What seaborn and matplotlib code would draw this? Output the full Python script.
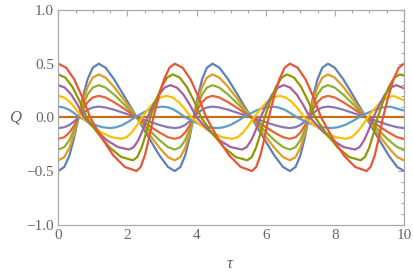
import numpy as np
import pandas as pd
import seaborn as sns
import matplotlib.pyplot as plt
from matplotlib.ticker import MultipleLocator

# Q(tau), one curve for each start value Q(0)
# the Q(0) < 0 curves share the same tau points
tau_neg = [0, 0.174, 0.323, 0.457, 0.585, 0.713, 0.847, 0.996, 1.17, 1.368, 1.615, 1.920, 2.27, 2.620, 2.925, 3.172,
           3.37, 3.532, 3.671, 3.796, 3.915, 4.034, 4.159, 4.298, 4.46, 4.661, 4.913, 5.223, 5.58, 5.937, 6.247, 6.499,
           6.70, 6.863, 7.003, 7.130, 7.25, 7.370, 7.497, 7.637, 7.80, 7.998, 8.245, 8.550, 8.90, 9.250, 9.555, 9.802,
           10.0]
q_m05 = [-0.5, -0.462, -0.354, -0.191, 0, 0.191, 0.354, 0.462, 0.5, 0.462, 0.354, 0.191, 0, -0.191, -0.354, -0.462,
         -0.5, -0.462, -0.354, -0.191, 0, 0.191, 0.354, 0.462, 0.5, 0.462, 0.354, 0.191, 0, -0.191, -0.354, -0.462,
         -0.5, -0.462, -0.354, -0.191, 0, 0.191, 0.354, 0.462, 0.5, 0.462, 0.354, 0.191, 0, -0.191, -0.354, -0.462,
         -0.5]
q_m04 = [-0.4, -0.37, -0.283, -0.153, 0, 0.153, 0.283, 0.37, 0.4, 0.37, 0.283, 0.153, 0, -0.153, -0.283, -0.37,
         -0.4, -0.37, -0.283, -0.153, 0, 0.153, 0.283, 0.37, 0.4, 0.37, 0.283, 0.153, 0, -0.153, -0.283, -0.37,
         -0.4, -0.37, -0.283, -0.153, 0, 0.153, 0.283, 0.37, 0.4, 0.37, 0.283, 0.153, 0, -0.153, -0.283, -0.37,
         -0.4]
q_m03 = [-0.3, -0.277, -0.212, -0.115, 0, 0.115, 0.212, 0.277, 0.3, 0.277, 0.212, 0.115, 0, -0.115, -0.212, -0.277,
         -0.3, -0.277, -0.212, -0.115, 0, 0.115, 0.212, 0.277, 0.3, 0.277, 0.212, 0.115, 0, -0.115, -0.212, -0.277,
         -0.3, -0.277, -0.212, -0.115, 0, 0.115, 0.212, 0.277, 0.3, 0.277, 0.212, 0.115, 0, -0.115, -0.212, -0.277,
         -0.3]
q_m02 = [-0.2, -0.185, -0.141, -0.077, 0, 0.077, 0.141, 0.185, 0.2, 0.185, 0.141, 0.077, 0, -0.077, -0.141, -0.185,
         -0.2, -0.185, -0.141, -0.077, 0, 0.077, 0.141, 0.185, 0.2, 0.185, 0.141, 0.077, 0, -0.077, -0.141, -0.185,
         -0.2, -0.185, -0.141, -0.077, 0, 0.077, 0.141, 0.185, 0.2, 0.185, 0.141, 0.077, 0, -0.077, -0.141, -0.185,
         -0.2]
q_m01 = [-0.1, -0.092, -0.071, -0.038, 0, 0.038, 0.071, 0.092, 0.1, 0.092, 0.071, 0.038, 0, -0.038, -0.071, -0.092,
         -0.1, -0.092, -0.071, -0.038, 0, 0.038, 0.071, 0.092, 0.1, 0.092, 0.071, 0.038, 0, -0.038, -0.071, -0.092,
         -0.1, -0.092, -0.071, -0.038, 0, 0.038, 0.071, 0.092, 0.1, 0.092, 0.071, 0.038, 0, -0.038, -0.071, -0.092,
         -0.1]

tau_0 = [0, 10]
q_0 = [0, 0]

tau_p01 = [0, 0.155, 0.31, 0.465, 0.62, 0.84, 1.06, 1.28, 1.50, 1.68, 1.86, 2.04, 2.22, 2.42, 2.62, 2.82,
           3.02, 3.183, 3.347, 3.51, 3.673, 3.905, 4.137, 4.368, 4.60, 4.79, 4.979, 5.169, 5.358, 5.569, 5.779, 5.99,
           6.20, 6.375, 6.549, 6.724, 6.898, 7.146, 7.393, 7.641, 7.889, 8.092, 8.294, 8.497, 8.699, 8.924, 9.15, 9.375,
           9.60, 10.0]
q_p01 = [0.1, 0.092, 0.071, 0.038, 0, -0.038, -0.071, -0.092, -0.1, -0.092, -0.071, -0.038, 0, 0.038, 0.071, 0.092,
         0.1, 0.092, 0.071, 0.038, 0, -0.038, -0.071, -0.092, -0.1, -0.092, -0.071, -0.038, 0, 0.038, 0.071, 0.092,
         0.1, 0.092, 0.071, 0.038, 0, -0.038, -0.071, -0.092, -0.1, -0.092, -0.071, -0.038, 0, 0.038, 0.071, 0.092,
         0.1, 0.063]

tau_p02 = [0, 0.17, 0.34, 0.51, 0.68, 0.965, 1.25, 1.535, 1.82, 1.97, 2.12, 2.27, 2.42, 2.598, 2.775, 2.953,
           3.13, 3.308, 3.486, 3.663, 3.841, 4.139, 4.437, 4.734, 5.032, 5.189, 5.346, 5.502, 5.659, 5.844, 6.029, 6.215,
           6.40, 6.579, 6.759, 6.938, 7.117, 7.418, 7.718, 8.019, 8.319, 8.477, 8.636, 8.794, 8.952, 9.139, 9.326, 9.513,
           9.70, 10.0]
q_p02 = [0.2, 0.185, 0.141, 0.077, 0, -0.077, -0.141, -0.185, -0.2, -0.185, -0.141, -0.077, 0, 0.077, 0.141, 0.185,
         0.2, 0.185, 0.141, 0.077, 0, -0.077, -0.141, -0.185, -0.2, -0.185, -0.141, -0.077, 0, 0.077, 0.141, 0.185,
         0.2, 0.185, 0.141, 0.077, 0, -0.077, -0.141, -0.185, -0.2, -0.185, -0.141, -0.077, 0, 0.077, 0.141, 0.185,
         0.2, 0.158]

tau_p03 = [0, 0.188, 0.375, 0.563, 0.75, 1.075, 1.40, 1.725, 2.05, 2.183, 2.315, 2.448, 2.58, 2.745, 2.91, 3.075,
           3.24, 3.43, 3.62, 3.809, 3.999, 4.328, 4.657, 4.986, 5.315, 5.449, 5.584, 5.718, 5.852, 6.019, 6.186, 6.353,
           6.52, 6.709, 6.898, 7.086, 7.275, 7.602, 7.929, 8.256, 8.583, 8.716, 8.85, 8.983, 9.116, 9.282, 9.448, 9.614,
           9.78, 10.0]
q_p03 = [0.3, 0.277, 0.212, 0.115, 0, -0.115, -0.212, -0.277, -0.3, -0.277, -0.212, -0.115, 0, 0.115, 0.212, 0.277,
         0.3, 0.277, 0.212, 0.115, 0, -0.115, -0.212, -0.277, -0.3, -0.277, -0.212, -0.115, 0, 0.115, 0.212, 0.277,
         0.3, 0.277, 0.212, 0.115, 0, -0.115, -0.212, -0.277, -0.3, -0.277, -0.212, -0.115, 0, 0.115, 0.212, 0.277,
         0.3, 0.27]

tau_p04 = [0, 0.205, 0.41, 0.615, 0.82, 1.155, 1.49, 1.825, 2.16, 2.285, 2.41, 2.535, 2.66, 2.823, 2.985, 3.148,
           3.31, 3.515, 3.72, 3.925, 4.13, 4.465, 4.80, 5.135, 5.47, 5.595, 5.72, 5.845, 5.97, 6.133, 6.295, 6.458,
           6.62, 6.822, 7.024, 7.226, 7.428, 7.758, 8.087, 8.417, 8.747, 8.87, 8.994, 9.117, 9.24, 9.40, 9.56, 9.72,
           9.88, 10.0]
q_p04 = [0.4, 0.37, 0.283, 0.153, 0, -0.153, -0.283, -0.37, -0.4, -0.37, -0.283, -0.153, 0, 0.153, 0.283, 0.37,
         0.4, 0.37, 0.283, 0.153, 0, -0.153, -0.283, -0.37, -0.4, -0.37, -0.283, -0.153, 0, 0.153, 0.283, 0.37,
         0.4, 0.37, 0.283, 0.153, 0, -0.153, -0.283, -0.37, -0.4, -0.37, -0.283, -0.153, 0, 0.153, 0.283, 0.37,
         0.4, 0.389]

tau_p05 = [0, 0.23, 0.46, 0.69, 0.92, 1.255, 1.59, 1.925, 2.26, 2.383, 2.505, 2.628, 2.75, 2.905, 3.06, 3.215,
           3.37, 3.597, 3.825, 4.052, 4.279, 4.61, 4.941, 5.273, 5.604, 5.725, 5.846, 5.966, 6.087, 6.24, 6.393, 6.547,
           6.70, 6.925, 7.151, 7.376, 7.601, 7.929, 8.258, 8.586, 8.914, 9.034, 9.154, 9.273, 9.393, 9.545, 9.696, 9.848,
           10.0]
q_p05 = [0.5, 0.462, 0.354, 0.191, 0, -0.191, -0.354, -0.462, -0.5, -0.462, -0.354, -0.191, 0, 0.191, 0.354, 0.462,
         0.5, 0.462, 0.354, 0.191, 0, -0.191, -0.354, -0.462, -0.5, -0.462, -0.354, -0.191, 0, 0.191, 0.354, 0.462,
         0.5, 0.462, 0.354, 0.191, 0, -0.191, -0.354, -0.462, -0.5, -0.462, -0.354, -0.191, 0, 0.191, 0.354, 0.462,
         0.5]

start_values = ["-0.5", "-0.4", "-0.3", "-0.2", "-0.1", "0.0", "0.1", "0.2", "0.3", "0.4", "0.5"]
curves = [(tau_neg, q_m05), (tau_neg, q_m04), (tau_neg, q_m03), (tau_neg, q_m02), (tau_neg, q_m01),
          (tau_0, q_0), (tau_p01, q_p01), (tau_p02, q_p02), (tau_p03, q_p03), (tau_p04, q_p04), (tau_p05, q_p05)]

# Mathematica default line colours, in plotting order
colors = ["#5E81B5", "#E19C24", "#8FB032", "#EB6235", "#8778B3", "#C56E1A",
          "#5D9EC7", "#FFBF00", "#A5609D", "#929600", "#E95536"]

x_ticks = [0, 2, 4, 6, 8, 10]
x_labels = ["0", "2", "4", "6", "8", "10"]
y_ticks = [-1.0, -0.5, 0.0, 0.5, 1.0]
y_labels = ["\u22121.0", "\u22120.5", "0.0", "0.5", "1.0"]

frames = []
for name, (t, q) in zip(start_values, curves):
    frames.append(pd.DataFrame({"tau": t, "Q": q, "start": name}))
df = pd.concat(frames, ignore_index=True)

sns.set_style("white")
plt.rcParams["font.family"] = ["Liberation Serif", "DejaVu Serif"]

fig = plt.figure(figsize=(4.14, 2.74), dpi=100)
ax = fig.add_axes([58.3 / 414, 1 - 224.7 / 274, 345.7 / 414, 214.7 / 274])

sns.lineplot(data=df, x="tau", y="Q", hue="start", hue_order=start_values,
             palette=dict(zip(start_values, colors)), estimator=None, sort=False,
             linewidth=1.6, legend=False, ax=ax)

frame_gray = "#a8a8a8"
label_gray = "#666666"
ax.set_xlim(0, 10)
ax.set_ylim(-1, 1)
ax.set_xticks(x_ticks)
ax.set_xticklabels(x_labels)
ax.set_yticks(y_ticks)
ax.set_yticklabels(y_labels)
ax.xaxis.set_minor_locator(MultipleLocator(0.5))
ax.yaxis.set_minor_locator(MultipleLocator(0.1))
ax.tick_params(which="both", direction="in", top=True, right=True, color=frame_gray, width=0.8,
               labelsize=11, labelcolor=label_gray)
ax.tick_params(which="major", length=4.5)
ax.tick_params(which="minor", length=2.5)
ax.tick_params(axis="x", pad=3)
ax.tick_params(axis="y", pad=3)
for side in ax.spines.values():
    side.set_color(frame_gray)
    side.set_linewidth(0.9)

ax.set_xlabel("\u03c4", fontsize=12, fontstyle="italic", color=label_gray, va="center")
ax.set_ylabel("Q", fontsize=12, fontstyle="italic", color=label_gray, rotation=0, va="center", ha="center")
ax.xaxis.set_label_coords(0.495, -0.183)
ax.yaxis.set_label_coords(-0.125, 0.5)

fig.savefig("out.png", dpi=100)
